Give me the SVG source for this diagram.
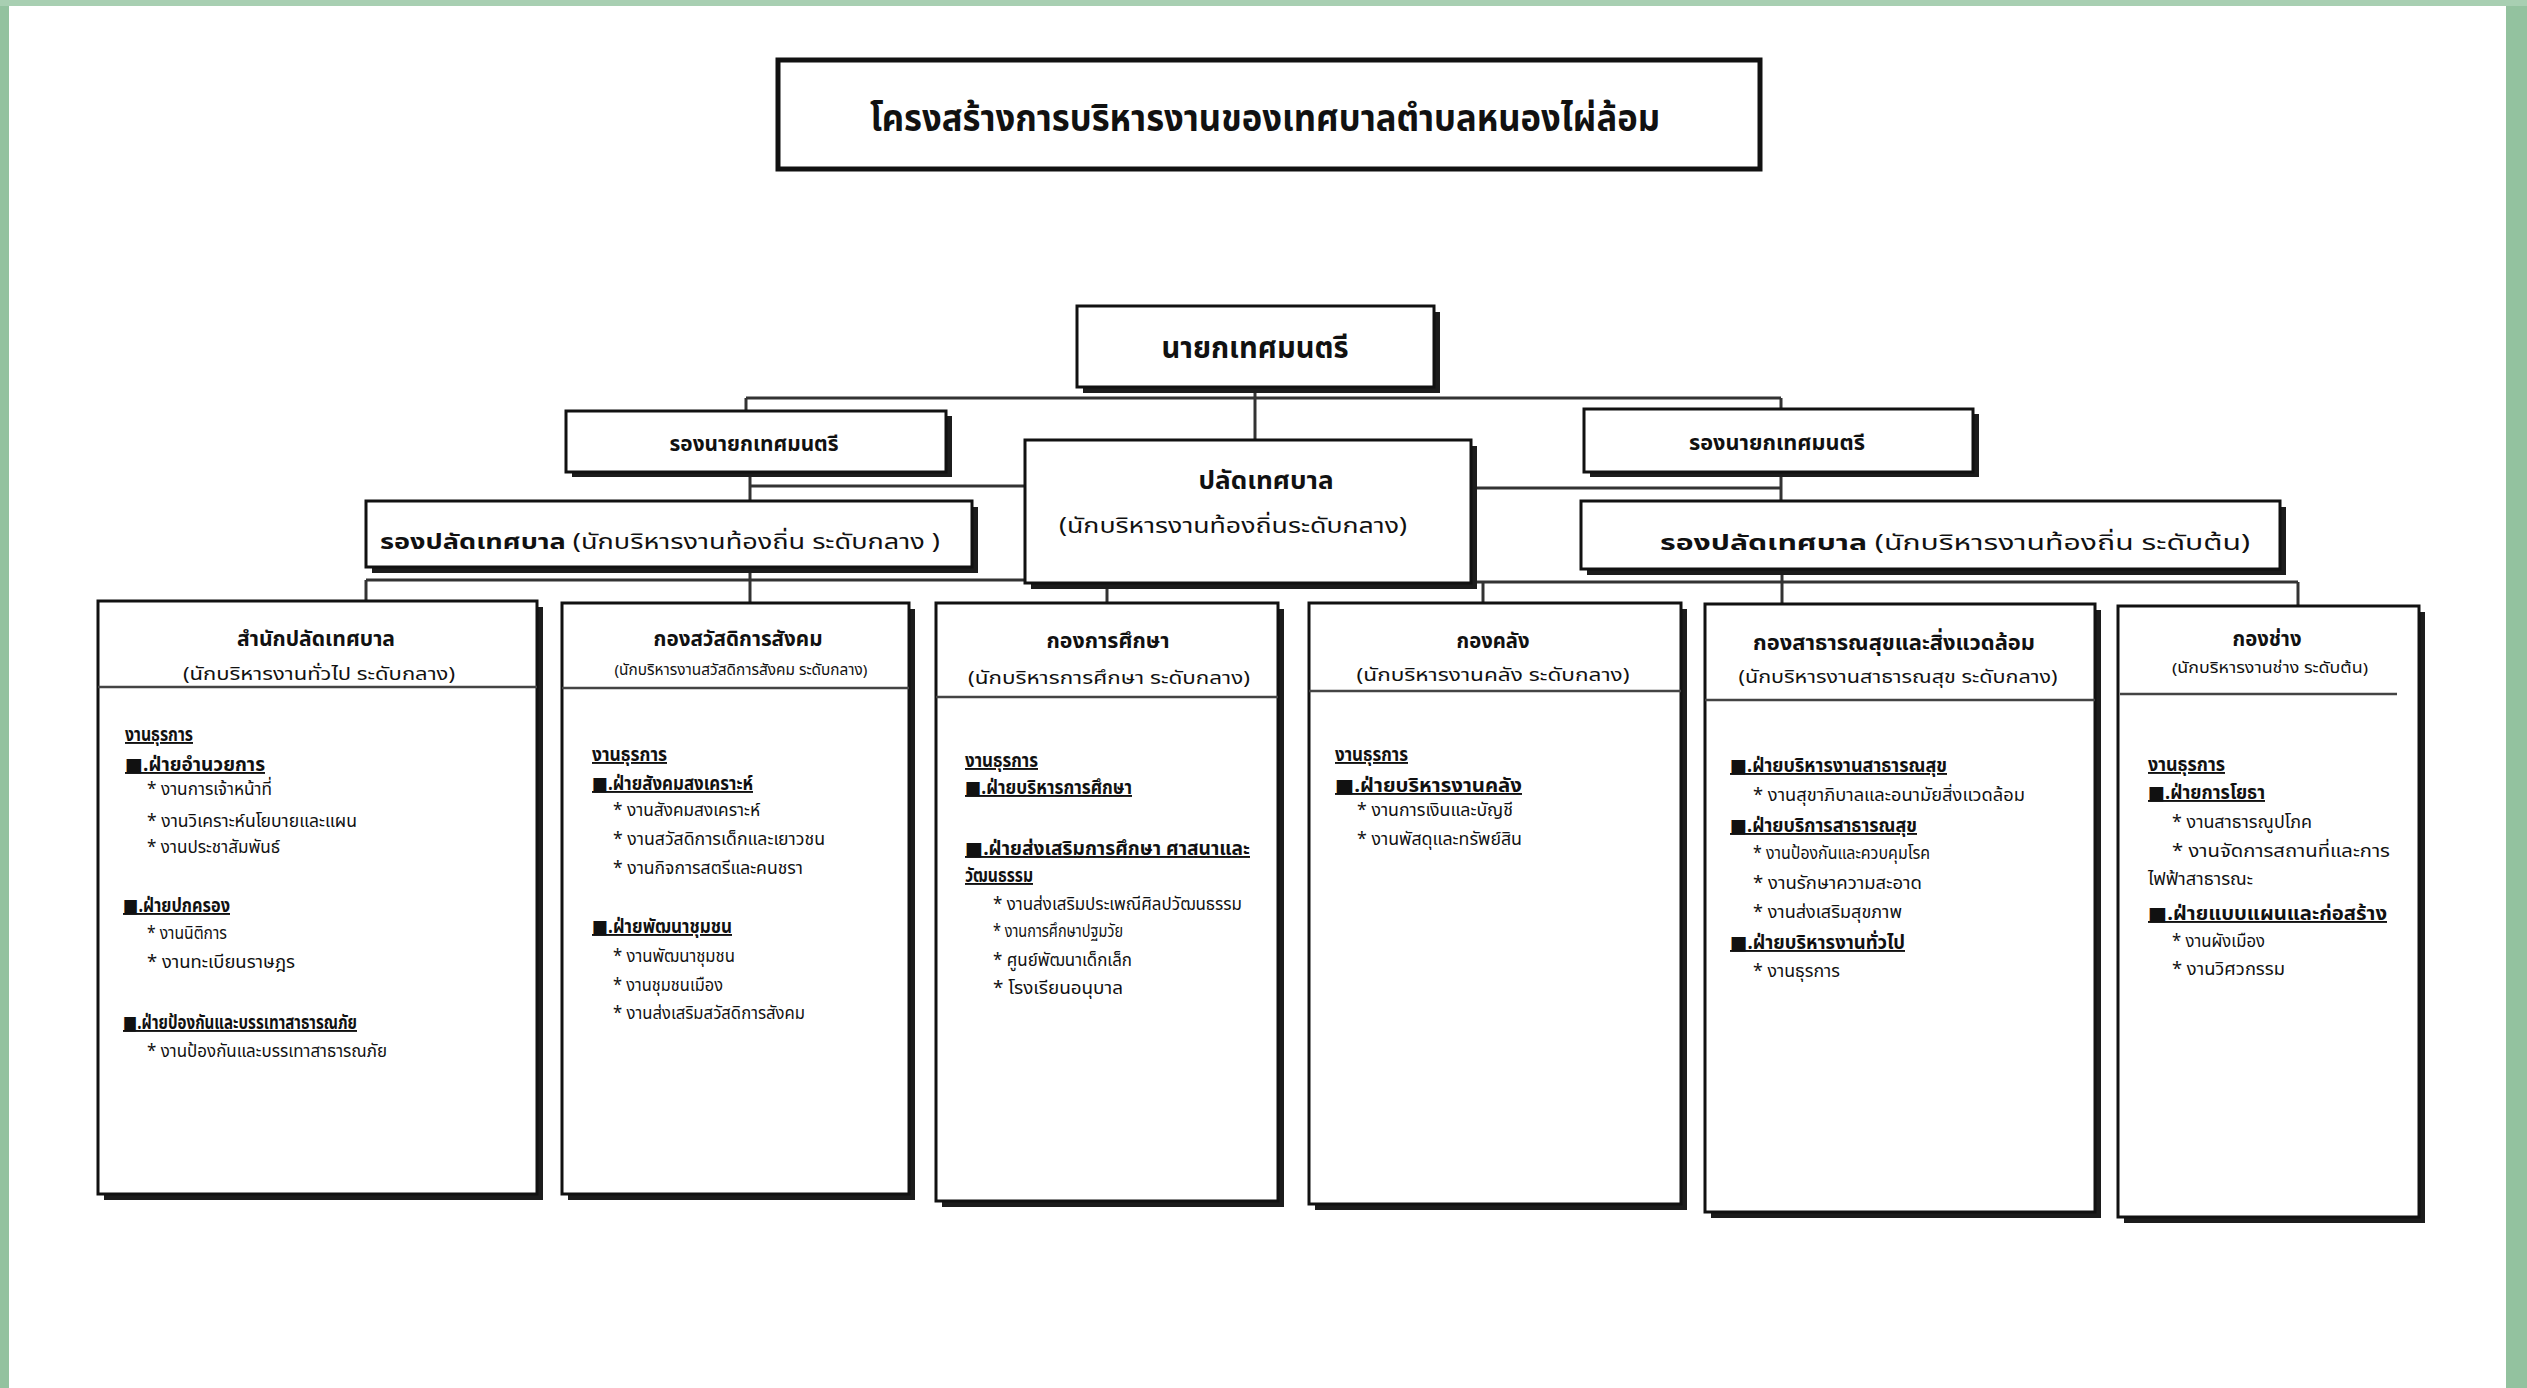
<svg xmlns="http://www.w3.org/2000/svg" width="2527" height="1388" viewBox="0 0 2527 1388">
<style>
.t{font-family:"Noto Sans Thai","Noto Sans","DejaVu Sans",sans-serif;fill:#111}
.b{font-weight:bold}
.box{fill:#fff;stroke:#111;stroke-width:3}
.sh{fill:#1c1c1c}
.ln{stroke:#333;stroke-width:3;fill:none}
.dv{stroke:#444;stroke-width:2.5}
.h{font-size:19px;font-weight:bold;text-decoration:underline}
.i{font-size:18px}
.bt{font-size:22px;font-weight:bold}
.st{font-size:18px}
</style>
<rect width="2527" height="1388" fill="#fff"/>
<rect x="0" y="0" width="9" height="1388" fill="#93c29f"/>
<rect x="2506" y="0" width="21" height="1388" fill="#93c29f"/>
<rect x="0" y="0" width="2527" height="6" fill="#a8cfb2"/>

<g id="title">
<rect x="778" y="60" width="982" height="109" fill="#fff" stroke="#111" stroke-width="5"/>
<text class="t b" x="1265" y="131" font-size="38" text-anchor="middle" textLength="790" lengthAdjust="spacingAndGlyphs">โครงสร้างการบริหารงานของเทศบาลตำบลหนองไผ่ล้อม</text>
</g>

<g id="connectors">
<line class="ln" x1="1255" y1="387" x2="1255" y2="440"/>
<line class="ln" x1="746" y1="398" x2="1781" y2="398"/>
<line class="ln" x1="746" y1="398" x2="746" y2="411"/>
<line class="ln" x1="1781" y1="398" x2="1781" y2="409"/>
<line class="ln" x1="750" y1="472" x2="750" y2="501"/>
<line class="ln" x1="750" y1="486" x2="1025" y2="486"/>
<line class="ln" x1="1781" y1="472" x2="1781" y2="501"/>
<line class="ln" x1="1471" y1="488" x2="1781" y2="488"/>
<line class="ln" x1="366" y1="580" x2="1025" y2="580"/>
<line class="ln" x1="366" y1="580" x2="366" y2="601"/>
<line class="ln" x1="750" y1="567" x2="750" y2="603"/>
<line class="ln" x1="1107" y1="583" x2="1107" y2="603"/>
<line class="ln" x1="1471" y1="582" x2="2298" y2="582"/>
<line class="ln" x1="1483" y1="582" x2="1483" y2="603"/>
<line class="ln" x1="1782" y1="569" x2="1782" y2="604"/>
<line class="ln" x1="2298" y1="582" x2="2298" y2="606"/>
</g>

<g id="mayor">
<rect class="sh" x="1083" y="312" width="357" height="81"/>
<rect class="box" x="1077" y="306" width="357" height="81"/>
<text class="t b" x="1255" y="358" font-size="30" text-anchor="middle" textLength="187" lengthAdjust="spacingAndGlyphs">นายกเทศมนตรี</text>
</g>

<g id="deputy-mayor-left">
<rect class="sh" x="572" y="416" width="380" height="61"/>
<rect class="box" x="566" y="411" width="380" height="61"/>
<text class="t b" x="754" y="451" font-size="22" text-anchor="middle" textLength="169" lengthAdjust="spacingAndGlyphs">รองนายกเทศมนตรี</text>
</g>

<g id="deputy-mayor-right">
<rect class="sh" x="1590" y="414" width="389" height="63"/>
<rect class="box" x="1584" y="409" width="389" height="63"/>
<text class="t b" x="1777" y="450" font-size="22" text-anchor="middle" textLength="176" lengthAdjust="spacingAndGlyphs">รองนายกเทศมนตรี</text>
</g>

<g id="clerk">
<rect class="sh" x="1031" y="446" width="446" height="143"/>
<rect class="box" x="1025" y="440" width="446" height="143"/>
<text class="t b" x="1266" y="489" font-size="24" text-anchor="middle" textLength="135" lengthAdjust="spacingAndGlyphs">ปลัดเทศบาล</text>
<text class="t" x="1233" y="533" font-size="22" text-anchor="middle" textLength="348" lengthAdjust="spacingAndGlyphs">(นักบริหารงานท้องถิ่นระดับกลาง)</text>
</g>

<g id="deputy-clerk-left">
<rect class="sh" x="372" y="507" width="606" height="66"/>
<rect class="box" x="366" y="501" width="606" height="66"/>
<text class="t" x="380" y="549" font-size="22" textLength="560" lengthAdjust="spacingAndGlyphs"><tspan font-weight="bold">รองปลัดเทศบาล</tspan>  (นักบริหารงานท้องถิ่น ระดับกลาง )</text>
</g>

<g id="deputy-clerk-right">
<rect class="sh" x="1587" y="507" width="699" height="68"/>
<rect class="box" x="1581" y="501" width="699" height="68"/>
<text class="t" x="1660" y="550" font-size="22" textLength="590" lengthAdjust="spacingAndGlyphs"><tspan font-weight="bold">รองปลัดเทศบาล</tspan>  (นักบริหารงานท้องถิ่น ระดับต้น)</text>
</g>

<g id="office-clerk">
<rect class="sh" x="104" y="607" width="439" height="593"/>
<rect class="box" x="98" y="601" width="439" height="593"/>
<line class="dv" x1="98" y1="687" x2="537" y2="687"/>
<text class="t bt" x="316" y="646" text-anchor="middle" textLength="158" lengthAdjust="spacingAndGlyphs">สำนักปลัดเทศบาล</text>
<text class="t st" x="319" y="680" text-anchor="middle" textLength="272" lengthAdjust="spacingAndGlyphs">(นักบริหารงานทั่วไป ระดับกลาง)</text>
<text class="t h" x="125" y="741" textLength="68" lengthAdjust="spacingAndGlyphs">งานธุรการ</text>
<text class="t h" x="125" y="771" textLength="140" lengthAdjust="spacingAndGlyphs">■.ฝ่ายอำนวยการ</text>
<text class="t i" x="147" y="795" textLength="125" lengthAdjust="spacingAndGlyphs">* งานการเจ้าหน้าที่</text>
<text class="t i" x="147" y="827" textLength="210" lengthAdjust="spacingAndGlyphs">* งานวิเคราะห์นโยบายและแผน</text>
<text class="t i" x="147" y="853" textLength="133" lengthAdjust="spacingAndGlyphs">* งานประชาสัมพันธ์</text>
<text class="t h" x="123" y="912" textLength="107" lengthAdjust="spacingAndGlyphs">■.ฝ่ายปกครอง</text>
<text class="t i" x="147" y="939" textLength="80" lengthAdjust="spacingAndGlyphs">* งานนิติการ</text>
<text class="t i" x="147" y="968" textLength="148" lengthAdjust="spacingAndGlyphs">* งานทะเบียนราษฎร</text>
<text class="t h" x="123" y="1029" textLength="234" lengthAdjust="spacingAndGlyphs">■.ฝ่ายป้องกันและบรรเทาสาธารณภัย</text>
<text class="t i" x="147" y="1057" textLength="240" lengthAdjust="spacingAndGlyphs">* งานป้องกันและบรรเทาสาธารณภัย</text>
</g>

<g id="social-welfare">
<rect class="sh" x="568" y="609" width="347" height="591"/>
<rect class="box" x="562" y="603" width="347" height="591"/>
<line class="dv" x1="562" y1="688" x2="909" y2="688"/>
<text class="t bt" x="738" y="646" text-anchor="middle" textLength="169" lengthAdjust="spacingAndGlyphs">กองสวัสดิการสังคม</text>
<text class="t" x="741" y="675" font-size="15" text-anchor="middle" textLength="253" lengthAdjust="spacingAndGlyphs">(นักบริหารงานสวัสดิการสังคม ระดับกลาง)</text>
<text class="t h" x="592" y="761" textLength="75" lengthAdjust="spacingAndGlyphs">งานธุรการ</text>
<text class="t h" x="592" y="790" textLength="161" lengthAdjust="spacingAndGlyphs">■.ฝ่ายสังคมสงเคราะห์</text>
<text class="t i" x="613" y="816" textLength="147" lengthAdjust="spacingAndGlyphs">* งานสังคมสงเคราะห์</text>
<text class="t i" x="613" y="845" textLength="212" lengthAdjust="spacingAndGlyphs">* งานสวัสดิการเด็กและเยาวชน</text>
<text class="t i" x="613" y="874" textLength="190" lengthAdjust="spacingAndGlyphs">* งานกิจการสตรีและคนชรา</text>
<text class="t h" x="592" y="933" textLength="140" lengthAdjust="spacingAndGlyphs">■.ฝ่ายพัฒนาชุมชน</text>
<text class="t i" x="613" y="962" textLength="122" lengthAdjust="spacingAndGlyphs">* งานพัฒนาชุมชน</text>
<text class="t i" x="613" y="991" textLength="110" lengthAdjust="spacingAndGlyphs">* งานชุมชนเมือง</text>
<text class="t i" x="613" y="1019" textLength="192" lengthAdjust="spacingAndGlyphs">* งานส่งเสริมสวัสดิการสังคม</text>
</g>

<g id="education">
<rect class="sh" x="942" y="609" width="342" height="598"/>
<rect class="box" x="936" y="603" width="342" height="598"/>
<line class="dv" x1="936" y1="697" x2="1278" y2="697"/>
<text class="t bt" x="1108" y="648" text-anchor="middle" textLength="123" lengthAdjust="spacingAndGlyphs">กองการศึกษา</text>
<text class="t st" x="1109" y="684" text-anchor="middle" textLength="282" lengthAdjust="spacingAndGlyphs">(นักบริหารการศึกษา ระดับกลาง)</text>
<text class="t h" x="965" y="767" textLength="73" lengthAdjust="spacingAndGlyphs">งานธุรการ</text>
<text class="t h" x="965" y="794" textLength="167" lengthAdjust="spacingAndGlyphs">■.ฝ่ายบริหารการศึกษา</text>
<text class="t h" x="965" y="855" textLength="285" lengthAdjust="spacingAndGlyphs">■.ฝ่ายส่งเสริมการศึกษา ศาสนาและ</text>
<text class="t h" x="965" y="882" textLength="68" lengthAdjust="spacingAndGlyphs">วัฒนธรรม</text>
<text class="t i" x="993" y="910" textLength="249" lengthAdjust="spacingAndGlyphs">* งานส่งเสริมประเพณีศิลปวัฒนธรรม</text>
<text class="t i" x="993" y="937" textLength="130" lengthAdjust="spacingAndGlyphs">* งานการศึกษาปฐมวัย</text>
<text class="t i" x="993" y="966" textLength="139" lengthAdjust="spacingAndGlyphs">* ศูนย์พัฒนาเด็กเล็ก</text>
<text class="t i" x="993" y="994" textLength="130" lengthAdjust="spacingAndGlyphs">* โรงเรียนอนุบาล</text>
</g>

<g id="finance">
<rect class="sh" x="1315" y="609" width="372" height="601"/>
<rect class="box" x="1309" y="603" width="372" height="601"/>
<line class="dv" x1="1309" y1="691" x2="1681" y2="691"/>
<text class="t bt" x="1493" y="648" text-anchor="middle" textLength="73" lengthAdjust="spacingAndGlyphs">กองคลัง</text>
<text class="t st" x="1493" y="681" text-anchor="middle" textLength="273" lengthAdjust="spacingAndGlyphs">(นักบริหารงานคลัง ระดับกลาง)</text>
<text class="t h" x="1335" y="761" textLength="73" lengthAdjust="spacingAndGlyphs">งานธุรการ</text>
<text class="t h" x="1335" y="792" textLength="187" lengthAdjust="spacingAndGlyphs">■.ฝ่ายบริหารงานคลัง</text>
<text class="t i" x="1357" y="816" textLength="156" lengthAdjust="spacingAndGlyphs">* งานการเงินและบัญชี</text>
<text class="t i" x="1357" y="845" textLength="165" lengthAdjust="spacingAndGlyphs">* งานพัสดุและทรัพย์สิน</text>
</g>

<g id="public-health">
<rect class="sh" x="1711" y="610" width="390" height="608"/>
<rect class="box" x="1705" y="604" width="390" height="608"/>
<line class="dv" x1="1705" y1="700" x2="2095" y2="700"/>
<text class="t bt" x="1894" y="650" text-anchor="middle" textLength="282" lengthAdjust="spacingAndGlyphs">กองสาธารณสุขและสิ่งแวดล้อม</text>
<text class="t st" x="1898" y="683" text-anchor="middle" textLength="319" lengthAdjust="spacingAndGlyphs">(นักบริหารงานสาธารณสุข ระดับกลาง)</text>
<text class="t h" x="1730" y="772" textLength="217" lengthAdjust="spacingAndGlyphs">■.ฝ่ายบริหารงานสาธารณสุข</text>
<text class="t i" x="1753" y="801" textLength="272" lengthAdjust="spacingAndGlyphs">* งานสุขาภิบาลและอนามัยสิ่งแวดล้อม</text>
<text class="t h" x="1730" y="832" textLength="187" lengthAdjust="spacingAndGlyphs">■.ฝ่ายบริการสาธารณสุข</text>
<text class="t i" x="1753" y="859" textLength="177" lengthAdjust="spacingAndGlyphs">* งานป้องกันและควบคุมโรค</text>
<text class="t i" x="1753" y="889" textLength="169" lengthAdjust="spacingAndGlyphs">* งานรักษาความสะอาด</text>
<text class="t i" x="1753" y="918" textLength="149" lengthAdjust="spacingAndGlyphs">* งานส่งเสริมสุขภาพ</text>
<text class="t h" x="1730" y="949" textLength="175" lengthAdjust="spacingAndGlyphs">■.ฝ่ายบริหารงานทั่วไป</text>
<text class="t i" x="1753" y="977" textLength="87" lengthAdjust="spacingAndGlyphs">* งานธุรการ</text>
</g>

<g id="engineering">
<rect class="sh" x="2124" y="612" width="301" height="611"/>
<rect class="box" x="2118" y="606" width="301" height="611"/>
<line class="dv" x1="2120" y1="694" x2="2397" y2="694"/>
<text class="t bt" x="2267" y="646" text-anchor="middle" textLength="69" lengthAdjust="spacingAndGlyphs">กองช่าง</text>
<text class="t" x="2270" y="673" font-size="15" text-anchor="middle" textLength="196" lengthAdjust="spacingAndGlyphs">(นักบริหารงานช่าง ระดับต้น)</text>
<text class="t h" x="2148" y="771" textLength="77" lengthAdjust="spacingAndGlyphs">งานธุรการ</text>
<text class="t h" x="2148" y="799" textLength="117" lengthAdjust="spacingAndGlyphs">■.ฝ่ายการโยธา</text>
<text class="t i" x="2172" y="828" textLength="140" lengthAdjust="spacingAndGlyphs">* งานสาธารณูปโภค</text>
<text class="t i" x="2172" y="857" textLength="218" lengthAdjust="spacingAndGlyphs">* งานจัดการสถานที่และการ</text>
<text class="t i" x="2148" y="885" textLength="105" lengthAdjust="spacingAndGlyphs">ไฟฟ้าสาธารณะ</text>
<text class="t h" x="2148" y="920" textLength="239" lengthAdjust="spacingAndGlyphs">■.ฝ่ายแบบแผนและก่อสร้าง</text>
<text class="t i" x="2172" y="947" textLength="93" lengthAdjust="spacingAndGlyphs">* งานผังเมือง</text>
<text class="t i" x="2172" y="975" textLength="113" lengthAdjust="spacingAndGlyphs">* งานวิศวกรรม</text>
</g>
</svg>
